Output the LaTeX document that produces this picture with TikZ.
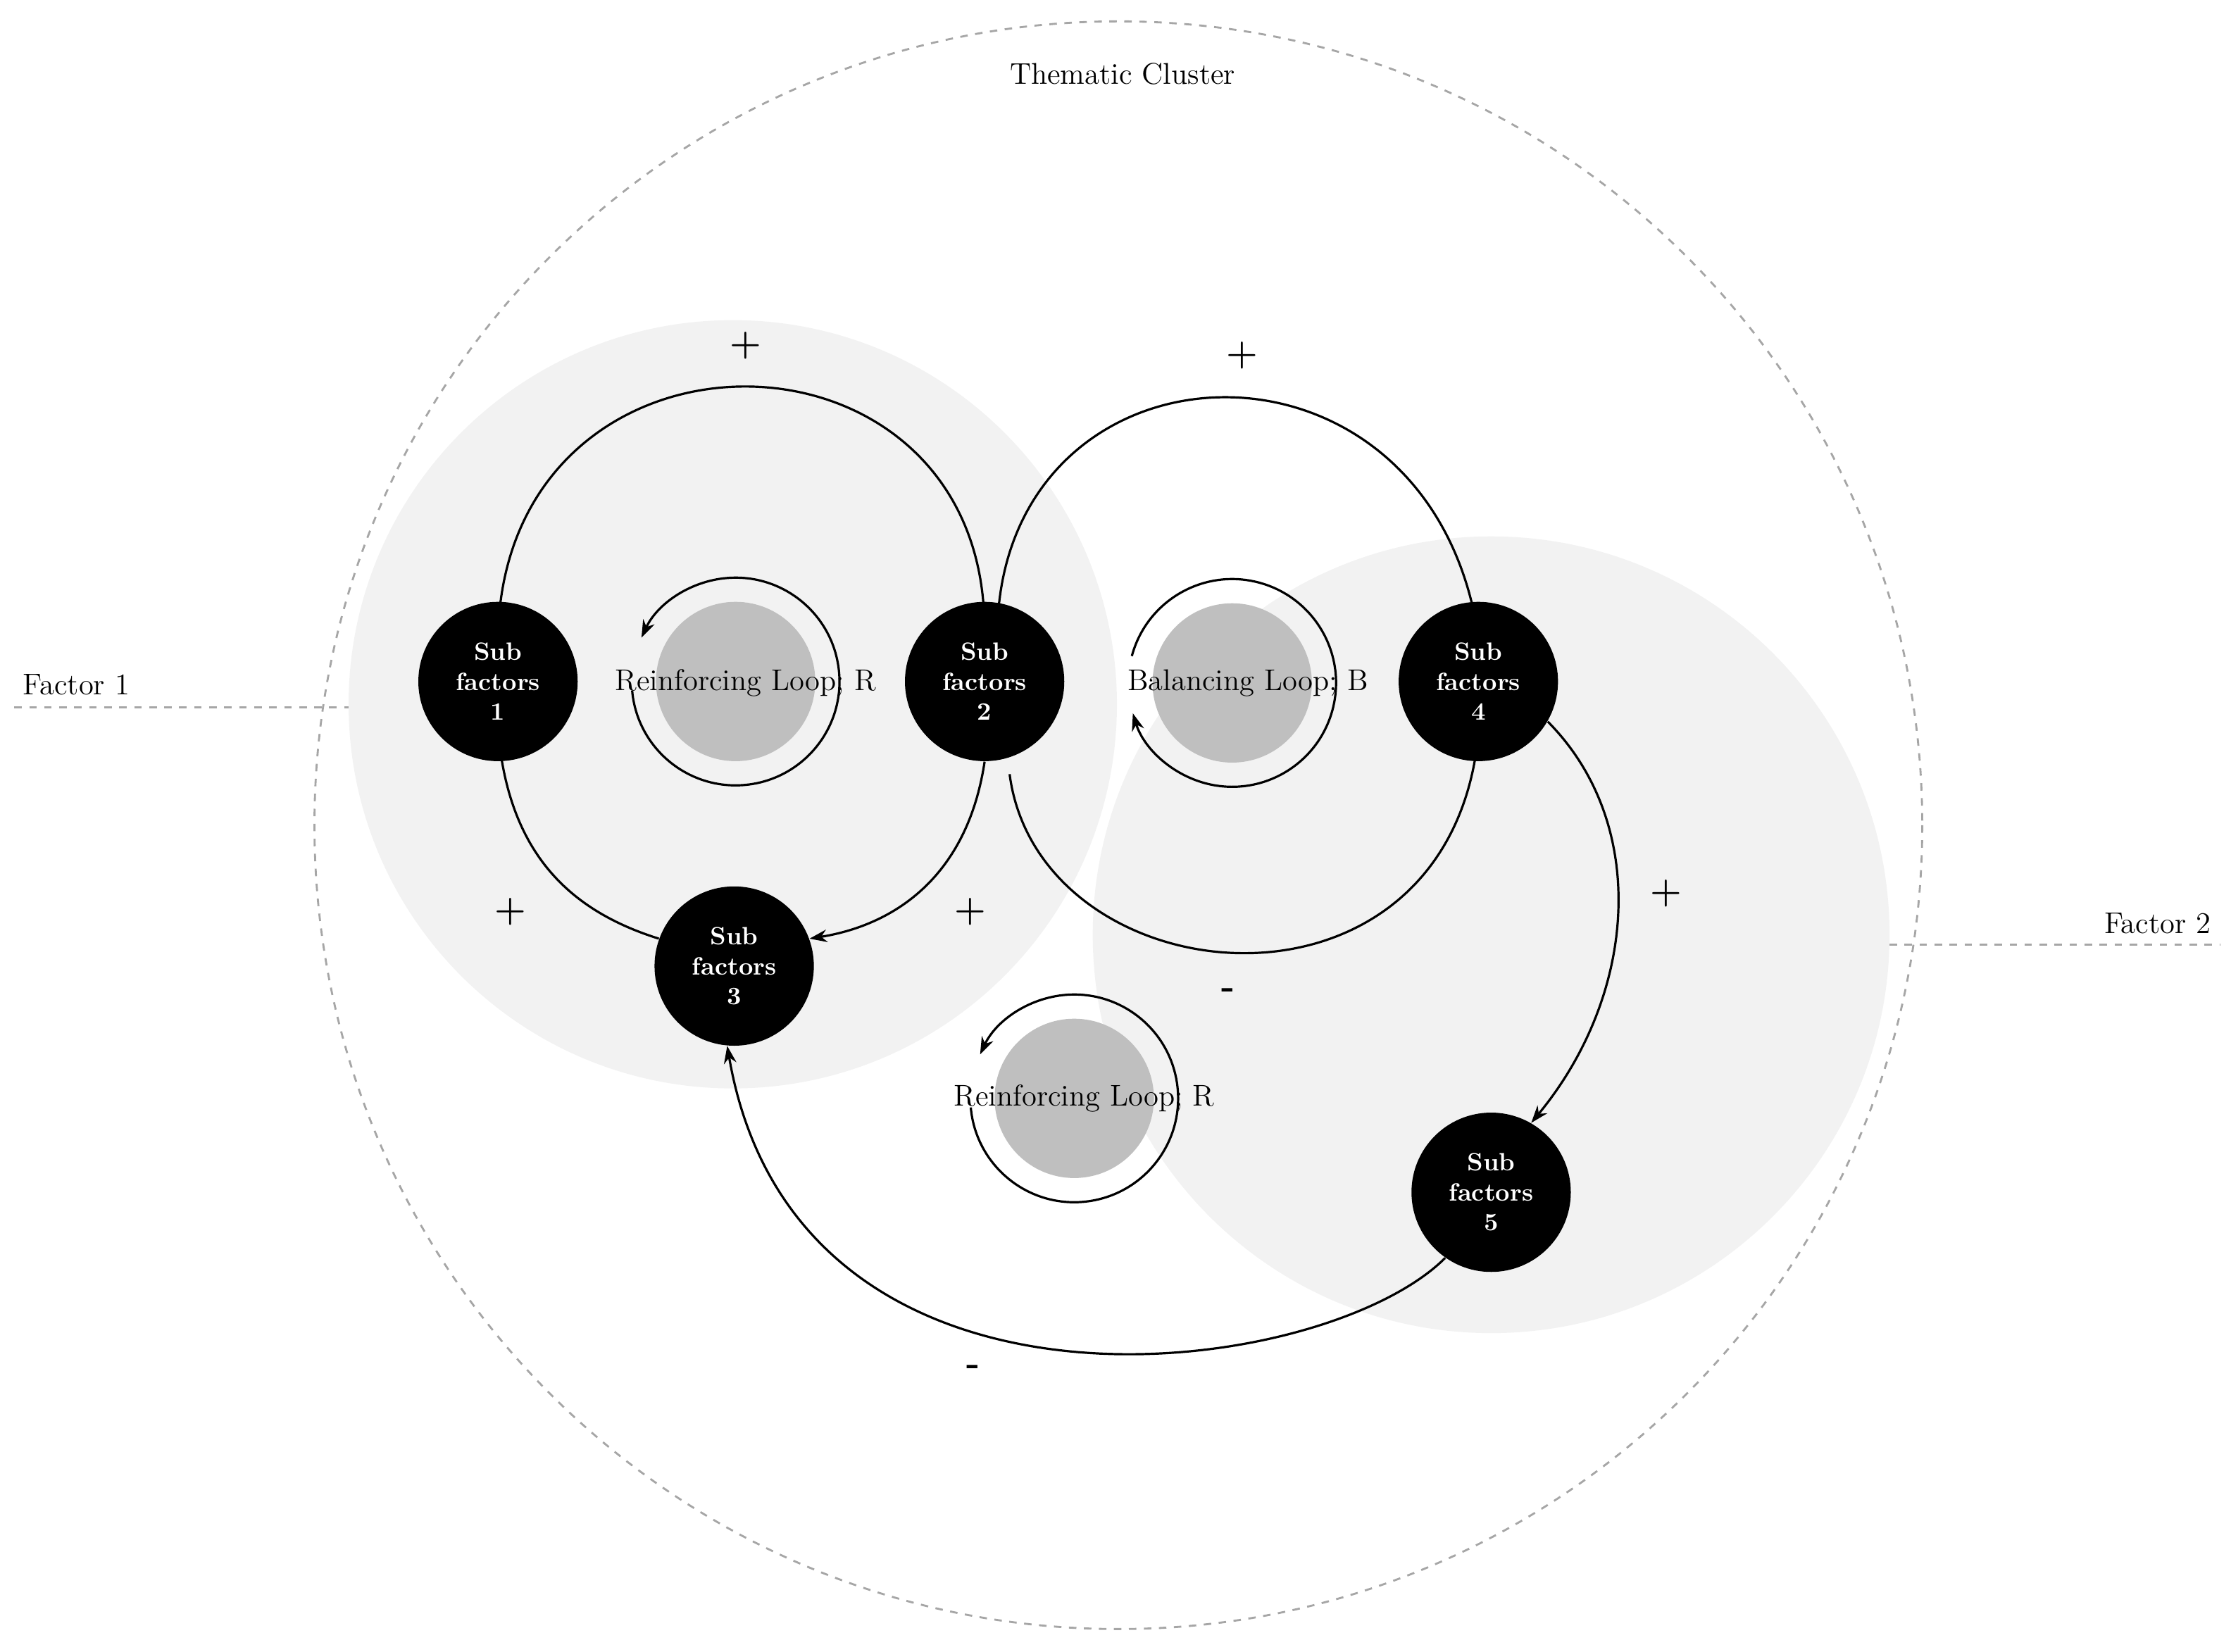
\documentclass[tikz,border=0pt]{standalone}
\usetikzlibrary{arrows.meta}
\definecolor{lightf}{HTML}{F2F2F2}
\definecolor{loopg}{HTML}{BFBFBF}
\begin{document}
\begin{tikzpicture}[x=0.02cm,y=-0.02cm,
  sf/.style={circle,fill=black,minimum size=2.24cm,inner sep=0pt,text=white,font=\bfseries\normalsize,align=center},
  lp/.style={circle,fill=loopg,minimum size=2.24cm,inner sep=0pt},
  lab/.style={font=\large},
  sign/.style={font=\Large\bfseries},
  con/.style={line width=0.9pt,-{Stealth[length=7pt,width=5pt]}},
  ring/.style={line width=0.9pt,-{Stealth[length=7pt,width=5pt]}},
  gdash/.style={dashed,gray!70,line width=0.8pt}]
\useasboundingbox (0,0) rectangle (1568,1161);
% factor areas
\fill[lightf] (515,495) circle (270);
\fill[lightf] (1048,657) circle (280);
% thematic cluster
\draw[gdash] (786,580) circle (565);
\node[lab] (tc) at (789,52) {Thematic Cluster};
\node[lab,anchor=west] (f1) at (10,481) {Factor 1};
\coordinate (f1a) at (10,497); \coordinate (f1b) at (245,497);
\draw[gdash] (f1a) -- (f1b);
\node[lab,anchor=east] (f2) at (1560,649) {Factor 2};
\coordinate (f2a) at (1328,664); \coordinate (f2b) at (1560,664);
\draw[gdash] (f2a) -- (f2b);
% loops
\node[lp] (l1) at (517,479) {};
\node[lp] (l2) at (866,480) {};
\node[lp] (l3) at (755,772) {};
\draw[ring] (l1.center) ++(175:73) arc[start angle=175,end angle=-155,radius=73];
\draw[ring] (l2.center) ++(-165:73) arc[start angle=-165,end angle=163,radius=73];
\draw[ring] (l3.center) ++(175:73) arc[start angle=175,end angle=-155,radius=73];
\node[lab] (t1) at (524,480) {Reinforcing Loop; R};
\node[lab] (t2) at (877,480) {Balancing Loop; B};
\node[lab] (t3) at (762,772) {Reinforcing Loop; R};
% sub factors
\node[sf] (s1) at (350,479) {Sub\\factors\\1};
\node[sf] (s2) at (692,479) {Sub\\factors\\2};
\node[sf] (s3) at (516,679) {Sub\\factors\\3};
\node[sf] (s4) at (1039,479) {Sub\\factors\\4};
\node[sf] (s5) at (1048,838) {Sub\\factors\\5};
% connectors
\draw[con] ([yshift=-14]s1.north) .. controls (355,215) and (686,215) .. ([yshift=-12]s2.north);
\draw[con] ([yshift=-14]s4.north) .. controls (1005,220) and (712,230) .. ([yshift=-12,xshift=5]s2.north);
\draw[con] (s2.south) .. controls (680,615) and (630,650) .. (s3.20);
\draw[con] (s3.160) .. controls (400,640) and (360,600) .. ([yshift=12]s1.south);
\draw[con] ([xshift=10,yshift=-5]s2.south) .. controls (730,700) and (1010,730) .. ([yshift=10]s4.south);
\draw[con] (s4.-30) .. controls (1160,580) and (1150,700) .. (s5.60);
\draw[con] (s5.-125) .. controls (930,970) and (560,1020) .. (s3.-95);
% signs
\node[sign] (p1) at (524,243) {+};
\node[sign] (p2) at (873,250) {+};
\node[sign] (p3) at (682,641) {+};
\node[sign] (p4) at (359,641) {+};
\node[sign] (m1) at (863,698) {-};
\node[sign] (p5) at (1171,628) {+};
\node[sign] (m2) at (684,963) {-};
\end{tikzpicture}
\end{document}
